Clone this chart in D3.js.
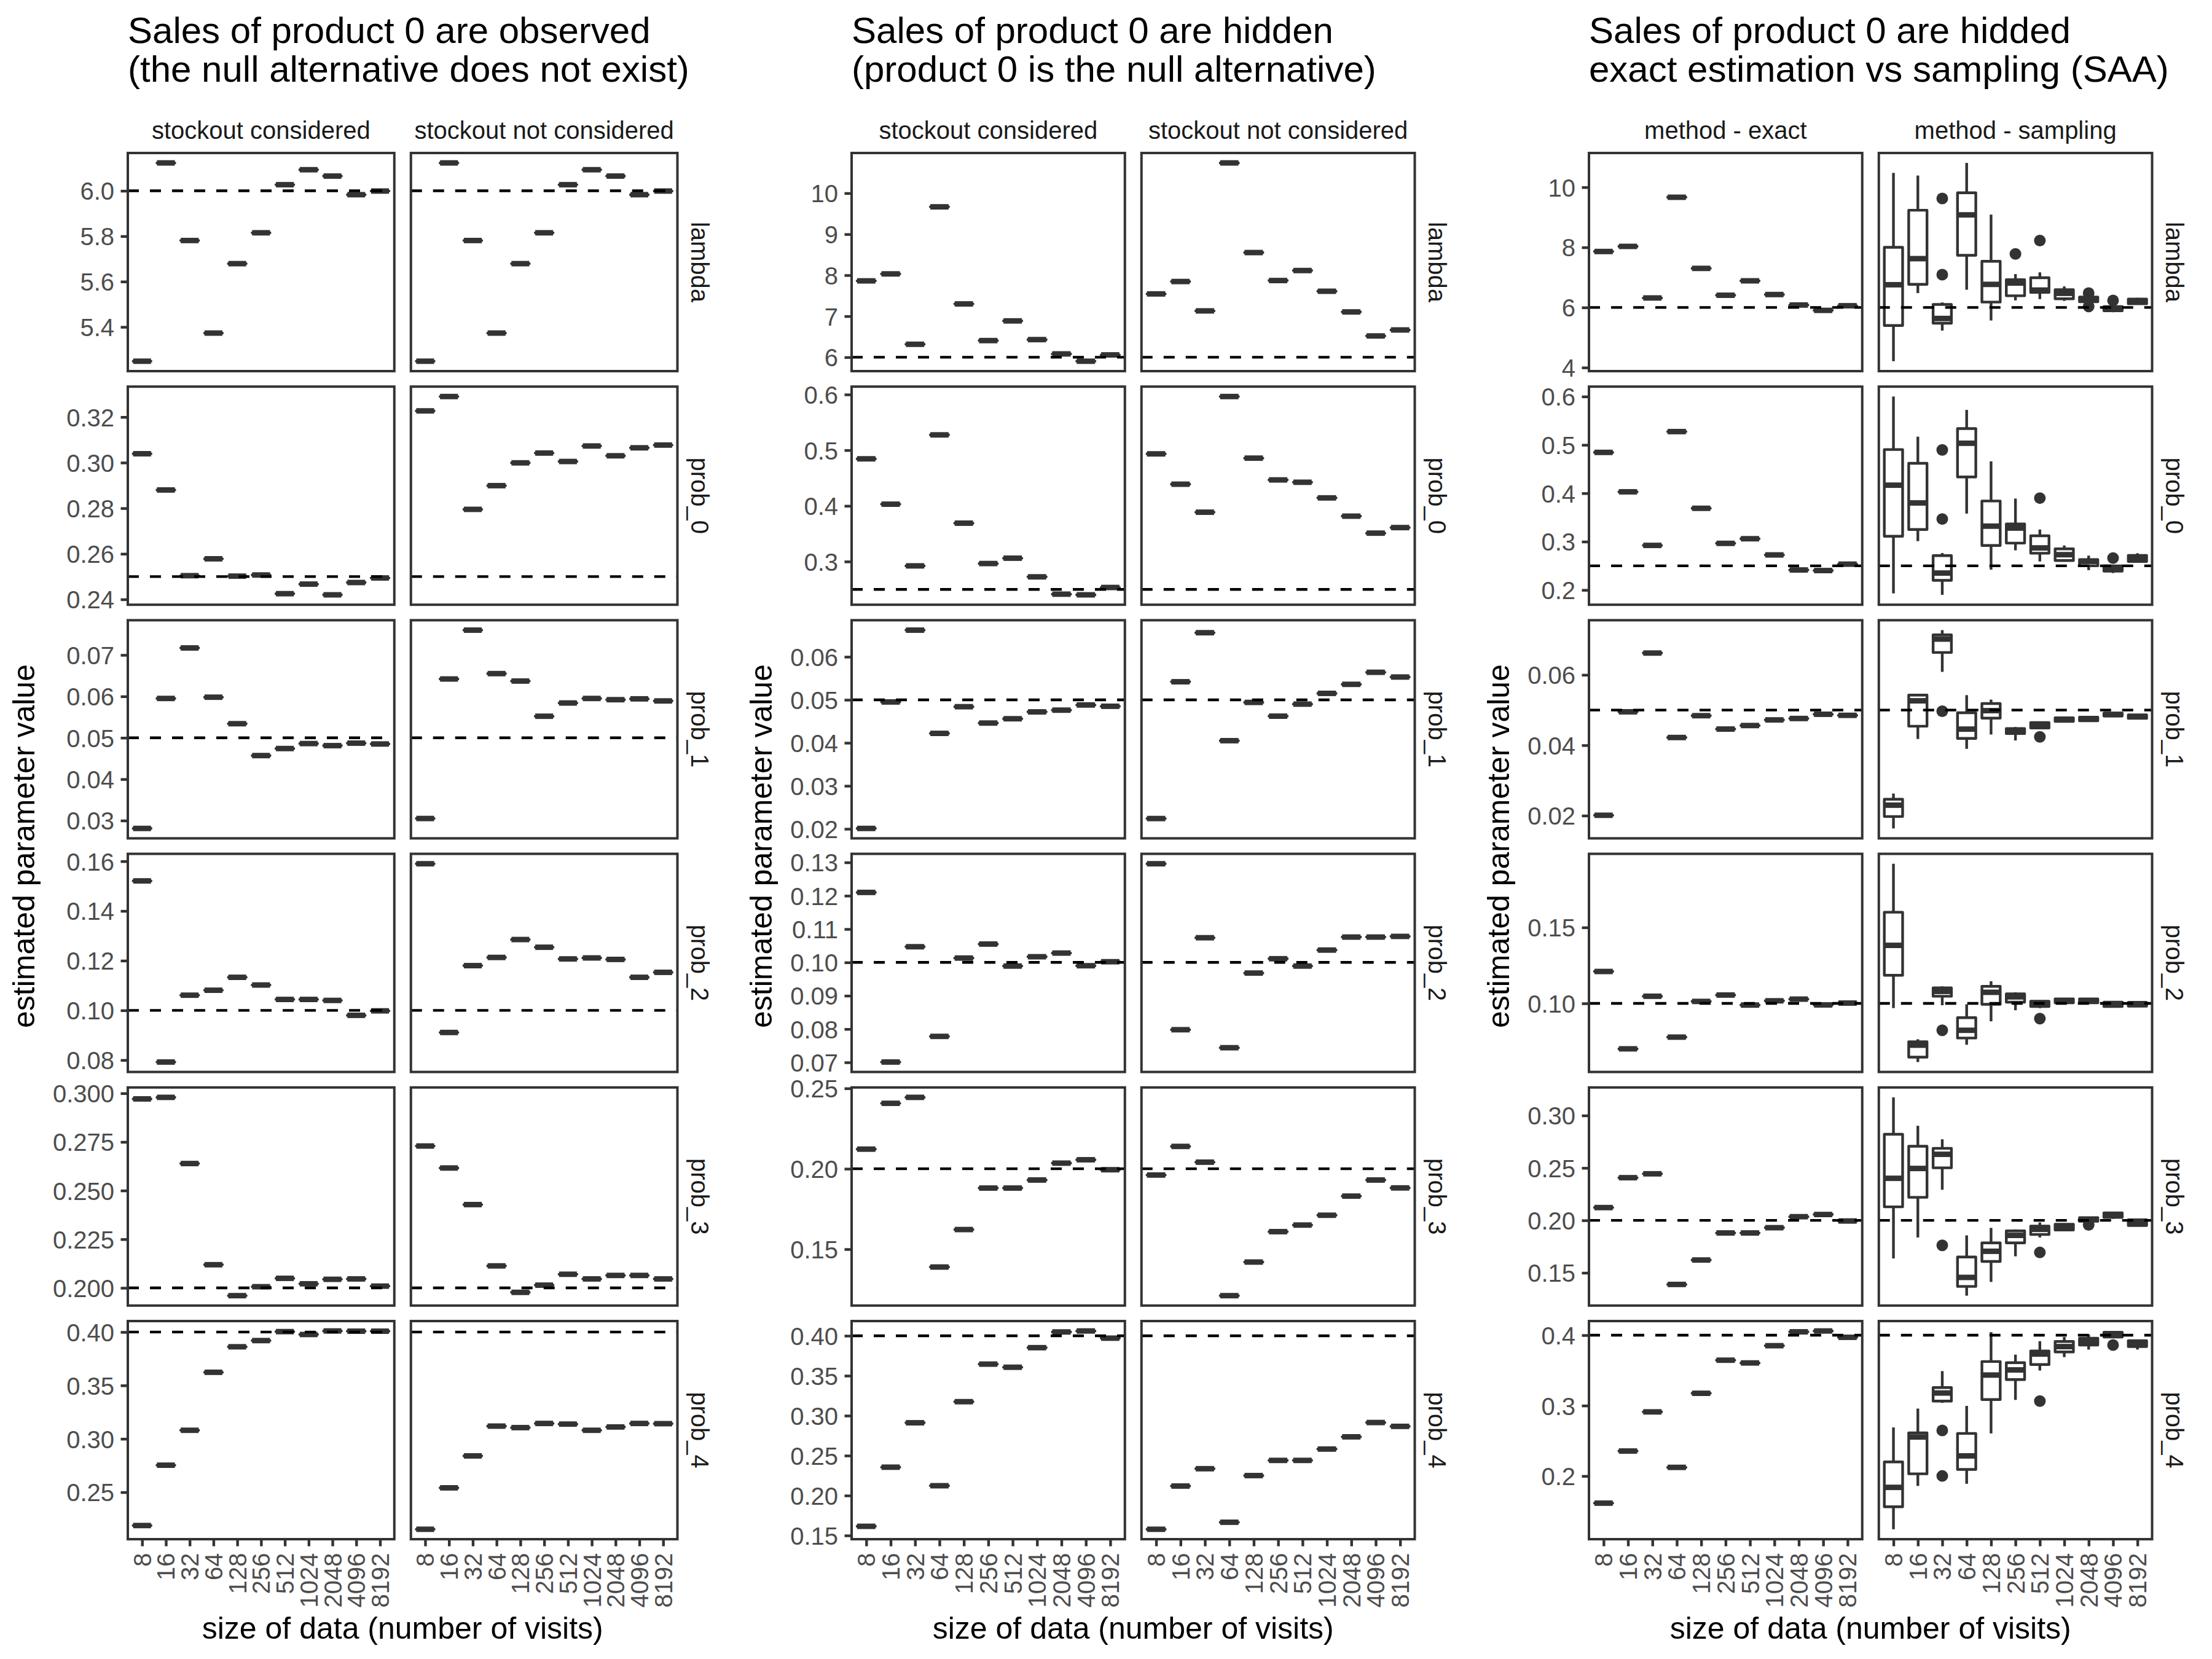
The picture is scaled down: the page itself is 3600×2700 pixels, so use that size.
<!DOCTYPE html>
<html>
<head>
<meta charset="utf-8">
<script src="https://cdn.jsdelivr.net/npm/d3@7"></script>
<style>
html,body{margin:0;padding:0;background:#fff;}
svg{display:block;}
</style>
</head>
<body>
<script>
// ---------------- DATA ----------------
const sizes = ["8","16","32","64","128","256","512","1024","2048","4096","8192"];
const params = ["lambda","prob_0","prob_1","prob_2","prob_3","prob_4"];
const trueValues = [6, 0.25, 0.05, 0.10, 0.20, 0.40];

const groupTitles = [
  ["Sales of product 0 are observed", "(the null alternative does not exist)"],
  ["Sales of product 0 are hidden", "(product 0 is the null alternative)"],
  ["Sales of product 0 are hidded", "exact estimation vs sampling (SAA)"]
];
const columnLabels = [
  ["stockout considered", "stockout not considered"],
  ["stockout considered", "stockout not considered"],
  ["method - exact", "method - sampling"]
];
const xAxisTitle = "size of data (number of visits)";
const yAxisTitle = "estimated parameter value";

// Group 1: sales of product 0 observed (rows = params, cols = sizes)
const observedConsidered = [
  [5.249, 6.123, 5.781, 5.373, 5.679, 5.815, 6.027, 6.093, 6.065, 5.983, 5.999],
  [0.3039, 0.2880, 0.2504, 0.2578, 0.2502, 0.2507, 0.2425, 0.2467, 0.2420, 0.2474, 0.2494],
  [0.0281, 0.0595, 0.0717, 0.0598, 0.0534, 0.0457, 0.0474, 0.0486, 0.0481, 0.0487, 0.0485],
  [0.1521, 0.0792, 0.1061, 0.1081, 0.1133, 0.1102, 0.1044, 0.1044, 0.1040, 0.0980, 0.0998],
  [0.2971, 0.2979, 0.2639, 0.2119, 0.1960, 0.2006, 0.2049, 0.2021, 0.2044, 0.2046, 0.2009],
  [0.2188, 0.2753, 0.3080, 0.3623, 0.3862, 0.3920, 0.4004, 0.3977, 0.4010, 0.4008, 0.4008]
];
const observedNotConsidered = [
  [5.249, 6.123, 5.781, 5.373, 5.679, 5.815, 6.027, 6.093, 6.065, 5.983, 5.999],
  [0.3227, 0.3290, 0.2795, 0.2899, 0.2999, 0.3042, 0.3005, 0.3073, 0.3030, 0.3065, 0.3077],
  [0.0305, 0.0642, 0.0760, 0.0655, 0.0637, 0.0552, 0.0584, 0.0595, 0.0592, 0.0594, 0.0589],
  [0.1590, 0.0911, 0.1180, 0.1213, 0.1285, 0.1254, 0.1207, 0.1211, 0.1205, 0.1133, 0.1153],
  [0.2729, 0.2616, 0.2428, 0.2113, 0.1977, 0.2014, 0.2070, 0.2046, 0.2064, 0.2064, 0.2046],
  [0.2153, 0.2541, 0.2840, 0.3119, 0.3105, 0.3144, 0.3138, 0.3080, 0.3111, 0.3144, 0.3142]
];

// Group 2: sales of product 0 hidden
const hiddenConsidered = [
  [7.862, 8.032, 6.316, 9.667, 7.300, 6.406, 6.886, 6.430, 6.081, 5.903, 6.057],
  [0.4845, 0.4030, 0.2922, 0.5275, 0.3689, 0.2964, 0.3060, 0.2725, 0.2414, 0.2402, 0.2534],
  [0.0201, 0.0495, 0.0662, 0.0422, 0.0484, 0.0446, 0.0456, 0.0472, 0.0476, 0.0488, 0.0485],
  [0.1210, 0.0701, 0.1047, 0.0778, 0.1013, 0.1055, 0.0989, 0.1017, 0.1028, 0.0990, 0.1002],
  [0.2122, 0.2407, 0.2444, 0.1389, 0.1622, 0.1880, 0.1880, 0.1930, 0.2035, 0.2056, 0.1994],
  [0.1615, 0.2355, 0.2911, 0.2123, 0.3175, 0.3645, 0.3606, 0.3851, 0.4048, 0.4060, 0.3970]
];
const hiddenNotConsidered = [
  [7.544, 7.846, 7.130, 10.738, 8.552, 7.870, 8.114, 7.609, 7.105, 6.519, 6.665],
  [0.4934, 0.4389, 0.3886, 0.5964, 0.4857, 0.4466, 0.4424, 0.4143, 0.3815, 0.3510, 0.3610],
  [0.0224, 0.0542, 0.0656, 0.0405, 0.0494, 0.0462, 0.0490, 0.0515, 0.0536, 0.0564, 0.0553],
  [0.1296, 0.0798, 0.1074, 0.0744, 0.0968, 0.1011, 0.0989, 0.1037, 0.1076, 0.1076, 0.1078],
  [0.1961, 0.2139, 0.2041, 0.1211, 0.1420, 0.1609, 0.1650, 0.1711, 0.1830, 0.1930, 0.1881],
  [0.1578, 0.2119, 0.2336, 0.1666, 0.2250, 0.2440, 0.2440, 0.2582, 0.2735, 0.2914, 0.2866]
];

// Group 3: exact estimation (same as hidden, stockout considered)
const exactEstimation = hiddenConsidered;

// Group 3: sampling (SAA) box statistics
const samplingLow = [
  [4.211, 6.478, 5.23, 6.59, 5.566, 6.234, 6.278, 6.22, 6.145, 5.84, 6.1],
  [0.193, 0.301, 0.190, 0.358, 0.242, 0.282, 0.259, 0.259, 0.241, 0.235, 0.257],
  [0.01636, 0.04178, 0.06085, 0.03898, 0.04305, 0.04136, 0.04458, 0.04644, 0.0467, 0.04805, 0.0474],
  [0.0969, 0.0614, 0.0988, 0.0728, 0.0882, 0.0955, 0.0969, 0.1000, 0.1000, 0.0975, 0.0977],
  [0.1637, 0.1837, 0.2292, 0.1282, 0.1413, 0.1657, 0.1837, 0.1900, 0.1986, 0.2015, 0.1946],
  [0.1244, 0.1860, 0.3039, 0.1890, 0.2605, 0.3081, 0.3498, 0.3689, 0.3796, 0.3966, 0.3796]
];
const samplingQ1 = [
  [5.399, 6.768, 5.477, 7.735, 6.178, 6.389, 6.50, 6.29, 6.19, 5.89, 6.122],
  [0.311, 0.325, 0.220, 0.4337, 0.292, 0.297, 0.276, 0.261, 0.250, 0.239, 0.259],
  [0.01975, 0.04542, 0.06636, 0.04195, 0.04771, 0.04331, 0.04492, 0.04678, 0.04695, 0.0483, 0.04763],
  [0.1185, 0.0646, 0.1047, 0.0772, 0.0994, 0.1008, 0.0980, 0.1004, 0.1004, 0.0980, 0.0982],
  [0.2129, 0.2220, 0.2501, 0.1370, 0.1608, 0.1785, 0.1865, 0.1908, 0.1991, 0.2029, 0.1951],
  [0.1563, 0.2031, 0.3064, 0.2094, 0.3086, 0.3370, 0.3583, 0.3762, 0.3860, 0.3974, 0.3838]
];
const samplingMedian = [
  [6.756, 7.624, 5.633, 9.081, 6.768, 6.812, 6.578, 6.47, 6.27, 5.955, 6.2],
  [0.4167, 0.380, 0.235, 0.5034, 0.332, 0.328, 0.287, 0.273, 0.259, 0.243, 0.266],
  [0.02297, 0.05263, 0.07017, 0.04458, 0.04983, 0.04407, 0.04576, 0.04729, 0.04746, 0.04873, 0.04814],
  [0.1382, 0.0725, 0.1079, 0.0823, 0.1073, 0.1043, 0.0998, 0.1018, 0.1018, 0.0994, 0.0998],
  [0.2401, 0.2495, 0.2630, 0.1456, 0.1705, 0.1857, 0.1914, 0.1934, 0.2009, 0.2052, 0.1980],
  [0.1839, 0.2554, 0.3179, 0.2286, 0.3434, 0.3507, 0.3732, 0.3838, 0.3906, 0.4009, 0.3881]
];
const samplingQ3 = [
  [8.0, 9.235, 6.10, 9.815, 7.535, 6.923, 6.99, 6.59, 6.345, 6.03, 6.278],
  [0.4904, 0.462, 0.271, 0.5337, 0.384, 0.3365, 0.312, 0.285, 0.263, 0.250, 0.2716],
  [0.02466, 0.05424, 0.07136, 0.04924, 0.05186, 0.04475, 0.04644, 0.0478, 0.04797, 0.04915, 0.04864],
  [0.1600, 0.0748, 0.1102, 0.0906, 0.1112, 0.1063, 0.1014, 0.1030, 0.1030, 0.1008, 0.1006],
  [0.2821, 0.2707, 0.2687, 0.1651, 0.1785, 0.1900, 0.1946, 0.1963, 0.2026, 0.2072, 0.2006],
  [0.2201, 0.2613, 0.3256, 0.2605, 0.3626, 0.3609, 0.3775, 0.3911, 0.3957, 0.4043, 0.3923]
];
const samplingHigh = [
  [10.478, 10.39, 6.167, 10.81, 9.09, 7.11, 7.168, 6.70, 6.345, 6.08, 6.32],
  [0.600, 0.517, 0.2764, 0.5723, 0.466, 0.389, 0.325, 0.292, 0.271, 0.250, 0.276],
  [0.02627, 0.05424, 0.07271, 0.05424, 0.05297, 0.04517, 0.04661, 0.04797, 0.0481, 0.04932, 0.0488],
  [0.1919, 0.0764, 0.1112, 0.0994, 0.1146, 0.1073, 0.1020, 0.1036, 0.1036, 0.1012, 0.1010],
  [0.3173, 0.2902, 0.2773, 0.1857, 0.1928, 0.1914, 0.1980, 0.1969, 0.2034, 0.2080, 0.2009],
  [0.2690, 0.2958, 0.3490, 0.2996, 0.4043, 0.3724, 0.3915, 0.3974, 0.4009, 0.4051, 0.3932]
];
// [param index, size index, value]
const samplingOutliers = [
  [0,2,9.626],[0,2,7.090],[0,5,7.78],[0,6,8.225],[0,8,6.478],[0,8,6.033],[0,9,6.234],
  [1,2,0.4897],[1,2,0.3468],[1,6,0.390],[1,9,0.266],
  [2,2,0.04966],[2,6,0.04237],
  [3,2,0.0823],[3,6,0.0900],
  [4,2,0.1762],[4,6,0.1694],[4,8,0.1957],
  [5,2,0.2647],[5,2,0.2001],[5,6,0.3064],[5,9,0.3860]
];

// y tick labels per group and parameter
const ticksObserved = [
  ["5.4","5.6","5.8","6.0"],
  ["0.24","0.26","0.28","0.30","0.32"],
  ["0.03","0.04","0.05","0.06","0.07"],
  ["0.08","0.10","0.12","0.14","0.16"],
  ["0.200","0.225","0.250","0.275","0.300"],
  ["0.25","0.30","0.35","0.40"]
];
const ticksHidden = [
  ["6","7","8","9","10"],
  ["0.3","0.4","0.5","0.6"],
  ["0.02","0.03","0.04","0.05","0.06"],
  ["0.07","0.08","0.09","0.10","0.11","0.12","0.13"],
  ["0.15","0.20","0.25"],
  ["0.15","0.20","0.25","0.30","0.35","0.40"]
];
const ticksSampling = [
  ["4","6","8","10"],
  ["0.2","0.3","0.4","0.5","0.6"],
  ["0.02","0.04","0.06"],
  ["0.10","0.15"],
  ["0.15","0.20","0.25","0.30"],
  ["0.2","0.3","0.4"]
];

// ---------------- BUILD TABLES ----------------
function exactColumn(arr){
  // a single value per size -> degenerate box
  return params.map((p,r)=>sizes.map((s,i)=>({lo:arr[r][i],q1:arr[r][i],med:arr[r][i],q3:arr[r][i],hi:arr[r][i],out:[]})));
}
function samplingColumn(){
  return params.map((p,r)=>sizes.map((s,i)=>({
    lo:samplingLow[r][i], q1:samplingQ1[r][i], med:samplingMedian[r][i],
    q3:samplingQ3[r][i], hi:samplingHigh[r][i],
    out:samplingOutliers.filter(o=>o[0]===r && o[1]===i).map(o=>o[2])
  })));
}
const groups = [
  {title:groupTitles[0], labels:columnLabels[0], ticks:ticksObserved,
   cols:[exactColumn(observedConsidered), exactColumn(observedNotConsidered)]},
  {title:groupTitles[1], labels:columnLabels[1], ticks:ticksHidden,
   cols:[exactColumn(hiddenConsidered), exactColumn(hiddenNotConsidered)]},
  {title:groupTitles[2], labels:columnLabels[2], ticks:ticksSampling,
   cols:[exactColumn(exactEstimation), samplingColumn()]}
];

// ---------------- DRAW ----------------
const W = 3600, H = 2700;
const FONT = "'Liberation Sans', Arial, Helvetica, sans-serif";
const INK = "#333333";
const svg = d3.select("body").append("svg")
  .attr("width", W).attr("height", H).attr("viewBox", `0 0 ${W} ${H}`)
  .style("font-family", FONT);
svg.append("rect").attr("width", W).attr("height", H).attr("fill", "#fff");

const rowTop0 = 249, rowH = 355, rowStep = 380.2, colGap = 27;
const lineW = 4.4, medianW = 8.9, tickLen = 11.5;

groups.forEach((grp, g) => {
  const gx = g * 1200;
  const left = g === 0 ? 208 : gx + 186;
  const right = gx + 1102.5;
  const pw = (right - left - colGap) / 2;
  const G = svg.append("g");

  // Titles
  grp.title.forEach((t, k) => {
    G.append("text").attr("x", left).attr("y", 70 + k * 63)
      .attr("font-size", 60).attr("fill", "#000").text(t);
  });
  // Column strips
  grp.labels.forEach((t, ci) => {
    const x0 = left + ci * (pw + colGap);
    G.append("text").attr("x", x0 + pw / 2).attr("y", 212).attr("dy", "0.35em")
      .attr("text-anchor", "middle").attr("font-size", 40).attr("fill", "#1a1a1a").text(t);
  });
  // Y axis title
  const lastBottom = rowTop0 + 5 * rowStep + rowH;
  G.append("text")
    .attr("transform", `translate(${gx + 56},${(rowTop0 + lastBottom) / 2}) rotate(-90)`)
    .attr("text-anchor", "middle").attr("font-size", 50).attr("fill", "#000").text(yAxisTitle);
  // X axis title
  G.append("text").attr("x", (left + right) / 2).attr("y", 2667)
    .attr("text-anchor", "middle").attr("font-size", 50).attr("fill", "#000").text(xAxisTitle);

  params.forEach((p, r) => {
    const top = rowTop0 + r * rowStep, bottom = top + rowH;
    // shared y domain across both columns (ggplot free_y per row + 5% expansion)
    const vals = [trueValues[r]];
    grp.cols.forEach(col => col[r].forEach(b => { vals.push(b.lo, b.hi, ...b.out); }));
    const mn = d3.min(vals), mx = d3.max(vals), pad = (mx - mn) * 0.05;
    const y = d3.scaleLinear().domain([mn - pad, mx + pad]).range([bottom, top]);

    grp.cols.forEach((col, ci) => {
      const x0 = left + ci * (pw + colGap);
      const x = d3.scalePoint().domain(sizes).range([x0, x0 + pw]).padding(0.6);
      const bw = x.step() * 0.75;
      const P = G.append("g");
      P.append("rect").attr("x", x0).attr("y", top).attr("width", pw).attr("height", rowH).attr("fill", "#fff");

      // boxplots
      const boxes = P.selectAll("g.box").data(col[r].map((b, i) => ({...b, s: sizes[i]})))
        .enter().append("g").attr("class", "box");
      boxes.append("line")
        .attr("x1", d => x(d.s)).attr("x2", d => x(d.s))
        .attr("y1", d => y(d.q3)).attr("y2", d => y(d.hi))
        .attr("stroke", INK).attr("stroke-width", lineW);
      boxes.append("line")
        .attr("x1", d => x(d.s)).attr("x2", d => x(d.s))
        .attr("y1", d => y(d.q1)).attr("y2", d => y(d.lo))
        .attr("stroke", INK).attr("stroke-width", lineW);
      boxes.append("path")
        .attr("d", d => {
          const a = x(d.s) - bw / 2, b2 = x(d.s) + bw / 2, t = y(d.q3), u = y(d.q1);
          return `M${a},${t}H${b2}V${u}H${a}Z`;
        })
        .attr("fill", "#fff").attr("stroke", INK).attr("stroke-width", lineW)
        .attr("stroke-linejoin", "round");
      boxes.append("line")
        .attr("x1", d => x(d.s) - bw / 2).attr("x2", d => x(d.s) + bw / 2)
        .attr("y1", d => y(d.med)).attr("y2", d => y(d.med))
        .attr("stroke", INK).attr("stroke-width", medianW);
      boxes.each(function(d){
        d3.select(this).selectAll("circle").data(d.out).enter().append("circle")
          .attr("cx", x(d.s)).attr("cy", v => y(v)).attr("r", 9.5).attr("fill", INK);
      });

      // true value line
      P.append("line").attr("x1", x0).attr("x2", x0 + pw)
        .attr("y1", y(trueValues[r])).attr("y2", y(trueValues[r]))
        .attr("stroke", "#000").attr("stroke-width", lineW).attr("stroke-dasharray", "18 18");

      // border
      P.append("rect").attr("x", x0).attr("y", top).attr("width", pw).attr("height", rowH)
        .attr("fill", "none").attr("stroke", INK).attr("stroke-width", 4);

      // y axis (left column only)
      if (ci === 0) {
        const labs = grp.ticks[r];
        const ax = d3.axisLeft(y).tickValues(labs.map(Number))
          .tickFormat((d, i) => labs[i]).tickSize(tickLen).tickPadding(10.5);
        const A = P.append("g").attr("transform", `translate(${x0},0)`).call(ax);
        A.select(".domain").remove();
        A.attr("font-family", FONT).attr("font-size", 40);
        A.selectAll(".tick line").attr("stroke", INK).attr("stroke-width", lineW);
        A.selectAll(".tick text").attr("fill", "#4d4d4d").attr("dy", "0.36em");
      }
      // right strip (right column only)
      if (ci === 1) {
        G.append("text")
          .attr("transform", `translate(${x0 + pw + 36},${(top + bottom) / 2}) rotate(90)`)
          .attr("text-anchor", "middle").attr("dy", "0.35em")
          .attr("font-size", 40).attr("fill", "#1a1a1a").text(p);
      }
      // x axis (bottom row only)
      if (r === params.length - 1) {
        const ax = d3.axisBottom(x).tickSize(tickLen).tickPadding(10);
        const A = P.append("g").attr("transform", `translate(0,${bottom})`).call(ax);
        A.select(".domain").remove();
        A.attr("font-family", FONT).attr("font-size", 40);
        A.selectAll(".tick line").attr("stroke", INK).attr("stroke-width", lineW);
        A.selectAll(".tick text")
          .attr("transform", "rotate(-90)")
          .attr("text-anchor", "end")
          .attr("x", -(tickLen + 11)).attr("y", 0).attr("dy", "0.35em")
          .attr("fill", "#4d4d4d");
      }
    });
  });
});
</script>
</body>
</html>
